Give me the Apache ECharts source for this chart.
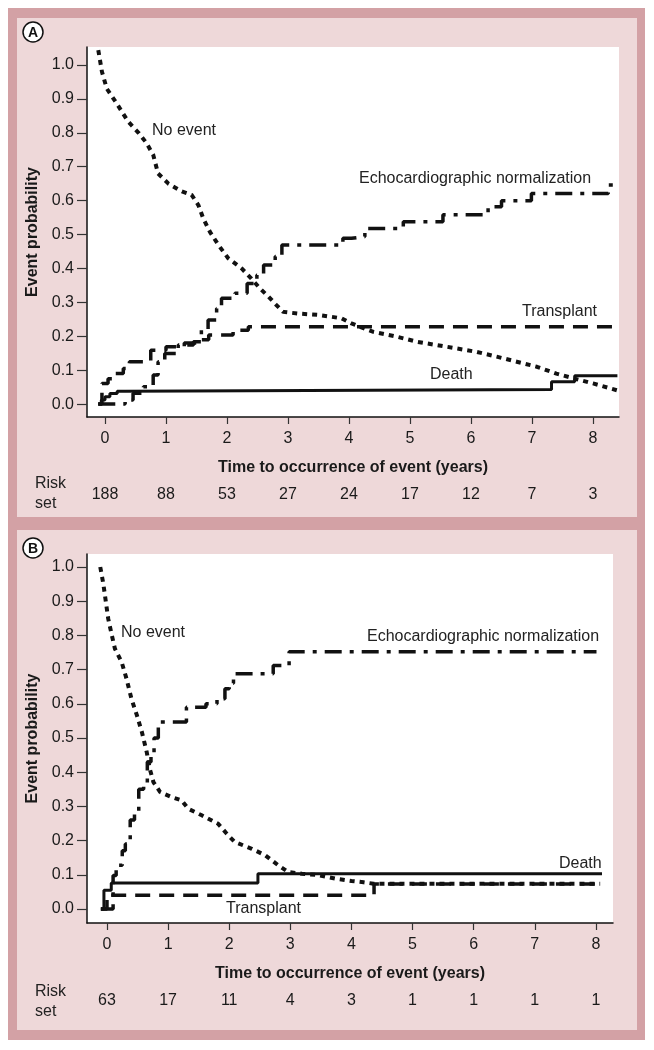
<!DOCTYPE html>
<html lang="en">
<head>
    <meta charset="UTF-8">
    <title>Event probability</title>
    <script src="https://cdn.jsdelivr.net/npm/echarts@6/dist/echarts.min.js"></script>
    <style>
        body { margin: 0; background: #fff; }
    </style>
</head>
<body>
    <div id="chart_div" style="width: 654px; height: 1050px;"></div>
</body>
    <script type="text/javascript">

       // panel A
       var yearTicks = [0, 1, 2, 3, 4, 5, 6, 7, 8];
       var probTicks = [0, 0.1, 0.2, 0.3, 0.4, 0.5, 0.6, 0.7, 0.8, 0.9, 1.0];
       var riskA = [188, 88, 53, 27, 24, 17, 12, 7, 3];
       var riskB = [63, 17, 11, 4, 3, 1, 1, 1, 1];

       var aNoEventT = [-0.11, -0.05, 0.03, 0.19, 0.38, 0.55, 0.68, 0.79, 0.87, 1.04, 1.26, 1.42, 1.53, 1.61, 1.72, 1.86, 2.02, 2.24, 2.40, 2.54, 2.68, 2.81, 2.92, 3.17, 3.50, 3.88, 4.04, 4.18, 4.40, 4.78, 5.11, 5.44, 5.77, 6.09, 6.42, 6.75, 7.08, 7.40, 7.68, 8.00, 8.39];
       var aNoEventP = [1.044, 0.98, 0.93, 0.887, 0.833, 0.80, 0.77, 0.735, 0.68, 0.65, 0.627, 0.617, 0.587, 0.548, 0.508, 0.469, 0.43, 0.40, 0.37, 0.341, 0.317, 0.292, 0.272, 0.267, 0.263, 0.253, 0.238, 0.228, 0.213, 0.199, 0.184, 0.174, 0.164, 0.154, 0.14, 0.125, 0.11, 0.09, 0.076, 0.061, 0.041];

       var aEchoT = [-0.11, 0.33, 0.46, 0.63, 0.79, 0.87, 0.98, 1.20, 1.45, 1.58, 1.69, 1.83, 1.91, 2.13, 2.33, 2.49, 2.60, 2.79, 2.90, 3.90, 4.04, 4.26, 4.89, 5.54, 6.28, 6.50, 6.99, 8.25, 8.40];
       var aEchoP = [0, 0.012, 0.032, 0.051, 0.086, 0.125, 0.149, 0.174, 0.184, 0.218, 0.248, 0.282, 0.312, 0.327, 0.356, 0.381, 0.41, 0.435, 0.469, 0.489, 0.494, 0.518, 0.538, 0.558, 0.582, 0.60, 0.621, 0.646, 0.646];

       var aTransT = [-0.11, -0.05, 0.05, 0.15, 0.30, 0.40, 0.75, 1.00, 1.30, 1.55, 1.70, 2.10, 2.35, 8.40];
       var aTransP = [0, 0.061, 0.075, 0.09, 0.105, 0.125, 0.159, 0.169, 0.18, 0.19, 0.204, 0.218, 0.228, 0.228];

       var aDeathT = [-0.11, -0.06, 0.0, 0.08, 0.20, 0.33, 7.32, 7.70, 8.40];
       var aDeathP = [0, 0.012, 0.022, 0.031, 0.038, 0.043, 0.066, 0.084, 0.084];

       // panel B
       var bNoEventT = [-0.11, -0.06, 0.02, 0.08, 0.13, 0.24, 0.32, 0.40, 0.49, 0.57, 0.65, 0.70, 0.76, 0.87, 1.06, 1.22, 1.33, 1.55, 1.82, 1.96, 2.09, 2.37, 2.59, 2.80, 2.97, 3.19, 3.46, 3.73, 4.00, 4.20, 4.36, 8.07];
       var bNoEventP = [1.0, 0.951, 0.849, 0.80, 0.761, 0.722, 0.673, 0.615, 0.566, 0.518, 0.459, 0.41, 0.371, 0.342, 0.327, 0.318, 0.293, 0.274, 0.249, 0.22, 0.196, 0.176, 0.157, 0.128, 0.108, 0.103, 0.099, 0.089, 0.082, 0.078, 0.074, 0.074];

       var bEchoT = [-0.10, 0.10, 0.15, 0.25, 0.30, 0.38, 0.45, 0.52, 0.60, 0.66, 0.72, 0.77, 0.84, 1.30, 1.62, 1.80, 1.93, 2.00, 2.07, 2.72, 2.98, 8.01];
       var bEchoP = [0, 0.098, 0.128, 0.17, 0.19, 0.26, 0.28, 0.35, 0.36, 0.43, 0.45, 0.50, 0.547, 0.59, 0.60, 0.615, 0.644, 0.66, 0.688, 0.712, 0.752, 0.752];

       var bTransT = [-0.10, 0.0, 4.37, 8.07];
       var bTransP = [0, 0.04, 0.073, 0.073];

       var bDeathT = [-0.10, -0.05, 0.07, 2.47, 8.10];
       var bDeathP = [0, 0.055, 0.076, 0.103, 0.103];

       function pairs(t, p) {
           var out = [];
           for (var i = 0; i < t.length; i++) {
               out.push([t[i], p[i]]);
           }
           return out;
       }

       var font = 'Liberation Sans, Arial, sans-serif';
       var ink = '#1a1a1a';

       function mainX(grid, min, max) {
           return {
               type: 'value', gridIndex: grid, min: min, max: max,
               name: 'Time to occurrence of event (years)',
               nameLocation: 'middle', nameGap: 43,
               nameTextStyle: {fontFamily: font, fontSize: 16, fontWeight: 'bold', color: ink},
               axisLine: {show: true, onZero: false, lineStyle: {color: '#111', width: 1.5}},
               axisTick: {show: true, length: 7, customValues: yearTicks, lineStyle: {color: '#333', width: 1.2}},
               axisLabel: {customValues: yearTicks, margin: 14, fontFamily: font, fontSize: 16, color: ink},
               splitLine: {show: false}
           };
       }
       function riskX(grid, min, max, risk) {
           return {
               type: 'value', gridIndex: grid, min: min, max: max, position: 'bottom',
               axisLine: {show: false}, axisTick: {show: false}, splitLine: {show: false},
               axisLabel: {
                   customValues: yearTicks, margin: 70, fontFamily: font, fontSize: 16, color: ink,
                   formatter: function (v) { return String(risk[Math.round(v)]); }
               }
           };
       }
       function mainY(grid, min, max) {
           return {
               type: 'value', gridIndex: grid, min: min, max: max,
               name: 'Event probability', nameLocation: 'middle', nameGap: 44,
               nameTextStyle: {fontFamily: font, fontSize: 16, fontWeight: 'bold', color: ink},
               axisLine: {show: true, onZero: false, lineStyle: {color: '#111', width: 1.5}},
               axisTick: {show: true, length: 10, customValues: probTicks, lineStyle: {color: '#333', width: 1.2}},
               axisLabel: {
                   customValues: probTicks, margin: 13, fontFamily: font, fontSize: 16, color: ink,
                   formatter: function (v) { return v.toFixed(1); }
               },
               splitLine: {show: false}
           };
       }
       function curve(name, x, y, data, type, width, step) {
           return {
               name: name, type: 'line', xAxisIndex: x, yAxisIndex: y,
               data: data, step: step, symbol: 'none', silent: true, animation: false,
               lineStyle: {color: '#111', width: width, type: type, cap: 'butt'}
           };
       }
       function label(text, x, y) {
           return {
               type: 'text', x: x, y: y, z: 10,
               style: {text: text, fontFamily: font, fontSize: 16, fill: '#222', verticalAlign: 'middle'}
           };
       }
       function badge(letter, cy) {
           return [
               {type: 'circle', z: 10, shape: {cx: 33, cy: cy, r: 10}, style: {fill: '#fff', stroke: '#111', lineWidth: 1.5}},
               {type: 'text', z: 11, x: 33, y: cy + 1, style: {text: letter, fontFamily: font, fontSize: 14, fontWeight: 'bold', fill: '#111', align: 'center', verticalAlign: 'middle'}}
           ];
       }

       var dotted = [5, 5];
       var dashed = [15, 9];
       var dashDot = [17, 8, 4, 8];

       var chart = echarts.init(document.getElementById("chart_div"));
       var options = {
            animation: false,
            backgroundColor: '#fff',
            grid: [
                {left: 87, top: 47, width: 532, height: 370, show: true, backgroundColor: '#fff', borderWidth: 0},
                {left: 87, top: 554, width: 526, height: 369, show: true, backgroundColor: '#fff', borderWidth: 0}
            ],
            xAxis: [
                mainX(0, -0.295, 8.426),
                riskX(0, -0.295, 8.426, riskA),
                mainX(1, -0.327, 8.28),
                riskX(1, -0.327, 8.28, riskB)
            ],
            yAxis: [
                mainY(0, -0.038, 1.053),
                mainY(1, -0.041, 1.038)
            ],
            graphic: [
                {type: 'rect', z: -10, shape: {x: 8, y: 8, width: 637, height: 1032}, style: {fill: '#d3a1a5'}},
                {type: 'rect', z: -9, shape: {x: 17, y: 18, width: 620, height: 499}, style: {fill: '#eed8d9'}},
                {type: 'rect', z: -9, shape: {x: 17, y: 530, width: 620, height: 500}, style: {fill: '#eed8d9'}},
                label('No event', 152, 131),
                label('Echocardiographic normalization', 359, 179),
                label('Transplant', 522, 312),
                label('Death', 430, 375),
                label('No event', 121, 633),
                label('Echocardiographic normalization', 367, 637),
                label('Death', 559, 864),
                label('Transplant', 226, 909),
                label('Risk', 35, 484),
                label('set', 35, 504),
                label('Risk', 35, 992),
                label('set', 35, 1012)
            ].concat(badge('A', 32)).concat(badge('B', 548)),
            series: [
                curve('No event', 0, 0, pairs(aNoEventT, aNoEventP), dotted, 4, false),
                curve('Echocardiographic normalization', 0, 0, pairs(aEchoT, aEchoP), dashDot, 3.5, 'end'),
                curve('Transplant', 0, 0, pairs(aTransT, aTransP), dashed, 3.5, 'end'),
                curve('Death', 0, 0, pairs(aDeathT, aDeathP), 'solid', 3, 'end'),
                curve('No event', 2, 1, pairs(bNoEventT, bNoEventP), dotted, 4, false),
                curve('Echocardiographic normalization', 2, 1, pairs(bEchoT, bEchoP), dashDot, 3.5, 'end'),
                curve('Transplant', 2, 1, pairs(bTransT, bTransP), dashed, 3.5, 'end'),
                curve('Death', 2, 1, pairs(bDeathT, bDeathP), 'solid', 3, 'end')
            ]
       };
       chart.setOption(options);

    </script>
</html>
